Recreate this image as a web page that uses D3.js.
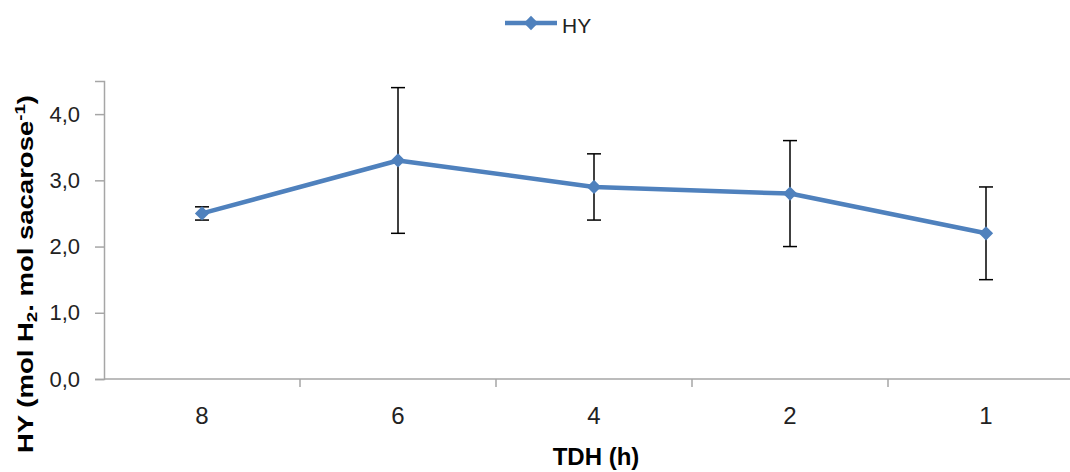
<!DOCTYPE html>
<html>
<head>
<meta charset="utf-8">
<script src="https://cdn.jsdelivr.net/npm/d3@7"></script>
<style>
  html, body { margin: 0; padding: 0; background: #fff; }
  svg { display: block; font-family: "Liberation Sans", Arial, sans-serif; }
</style>
</head>
<body>
<svg id="chart" width="1070" height="472"></svg>
<script>
// Hydrogen yield per hydraulic retention time
const categories = ["8", "6", "4", "2", "1"];
const hyValues = [2.5, 3.3, 2.9, 2.8, 2.2];
const hyErrors = [0.1, 1.1, 0.5, 0.8, 0.7];
const yTicks = [0, 1, 2, 3, 4];
const seriesName = "HY";

const blue = "#4F81BD";
const svg = d3.select("#chart");

const plotLeft = 104, plotRight = 1084, plotTop = 81, plotBottom = 379;

const x = d3.scaleBand().domain(categories).range([plotLeft, plotRight]);
const y = d3.scaleLinear().domain([0, 4.5]).range([plotBottom, plotTop]);
const fmt = d => d.toFixed(1).replace(".", ",");

// Y axis
const yAxis = svg.append("g")
  .attr("transform", `translate(${plotLeft},0)`)
  .call(d3.axisLeft(y).tickValues(yTicks).tickFormat(fmt).tickSize(9).tickPadding(15));
yAxis.select(".domain").attr("stroke", "#A6A6A6").attr("stroke-width", 1.5);
yAxis.selectAll(".tick line").attr("stroke", "#A6A6A6").attr("stroke-width", 1.5);
yAxis.selectAll(".tick text").attr("fill", "#222").style("font-size", "22px")
  .style("font-family", "'Liberation Sans', Arial, sans-serif");

// X axis with ticks on category boundaries
const xAxisG = svg.append("g").attr("transform", `translate(0,${plotBottom})`);
xAxisG.append("line")
  .attr("x1", plotLeft).attr("x2", plotRight)
  .attr("stroke", "#A6A6A6").attr("stroke-width", 1.5);
xAxisG.selectAll("line.boundary")
  .data(categories.slice(1))
  .join("line")
  .attr("class", "boundary")
  .attr("x1", d => x(d)).attr("x2", d => x(d))
  .attr("y1", 0).attr("y2", 8)
  .attr("stroke", "#A6A6A6").attr("stroke-width", 1.5);
xAxisG.selectAll("text")
  .data(categories)
  .join("text")
  .attr("x", d => x(d) + x.bandwidth() / 2)
  .attr("y", 45)
  .attr("text-anchor", "middle")
  .attr("fill", "#222")
  .style("font-size", "24px")
  .text(d => d);

// Axis titles
svg.append("text")
  .attr("x", 596).attr("y", 465)
  .attr("text-anchor", "middle")
  .attr("font-weight", "bold")
  .style("font-size", "24px")
  .attr("fill", "#000")
  .text("TDH (h)");

const yTitle = svg.append("text")
  .attr("transform", "translate(33,274) rotate(-90) scale(1.25,1)")
  .attr("text-anchor", "middle")
  .attr("font-weight", "bold")
  .style("font-size", "22px")
  .attr("fill", "#000");
yTitle.append("tspan").text("HY (mol H");
yTitle.append("tspan").attr("baseline-shift", "-25%").style("font-size", "15px").text("2");
yTitle.append("tspan").text(". mol sacarose");
yTitle.append("tspan").attr("baseline-shift", "super").style("font-size", "15px").text("-1");
yTitle.append("tspan").text(")");

// Error bars
const cx = d => x(d) + x.bandwidth() / 2;
const errG = svg.append("g").attr("stroke", "#000").attr("stroke-width", 1.5);
categories.forEach((c, i) => {
  const hi = y(hyValues[i] + hyErrors[i]);
  const lo = y(hyValues[i] - hyErrors[i]);
  errG.append("line").attr("x1", cx(c)).attr("x2", cx(c)).attr("y1", hi).attr("y2", lo);
  errG.append("line").attr("x1", cx(c) - 7).attr("x2", cx(c) + 7).attr("y1", hi).attr("y2", hi);
  errG.append("line").attr("x1", cx(c) - 7).attr("x2", cx(c) + 7).attr("y1", lo).attr("y2", lo);
});

// Series line
const line = d3.line().x((d, i) => cx(categories[i])).y(d => y(d));
svg.append("path")
  .datum(hyValues)
  .attr("d", line)
  .attr("fill", "none")
  .attr("stroke", blue)
  .attr("stroke-width", 4.5)
  .attr("stroke-linejoin", "round");

// Diamond markers
const diamond = d3.symbol().type(d3.symbolDiamond2).size(130);
svg.selectAll("path.marker")
  .data(hyValues)
  .join("path")
  .attr("class", "marker")
  .attr("transform", (d, i) => `translate(${cx(categories[i])},${y(d)})`)
  .attr("d", diamond)
  .attr("fill", blue);

// Legend
const lg = svg.append("g");
lg.append("line").attr("x1", 505).attr("x2", 557).attr("y1", 23).attr("y2", 23)
  .attr("stroke", blue).attr("stroke-width", 4.5);
lg.append("path").attr("transform", "translate(531,23)").attr("d", diamond).attr("fill", blue);
lg.append("text").attr("x", 562).attr("y", 33).style("font-size", "21px").attr("fill", "#222").text(seriesName);
</script>
</body>
</html>
